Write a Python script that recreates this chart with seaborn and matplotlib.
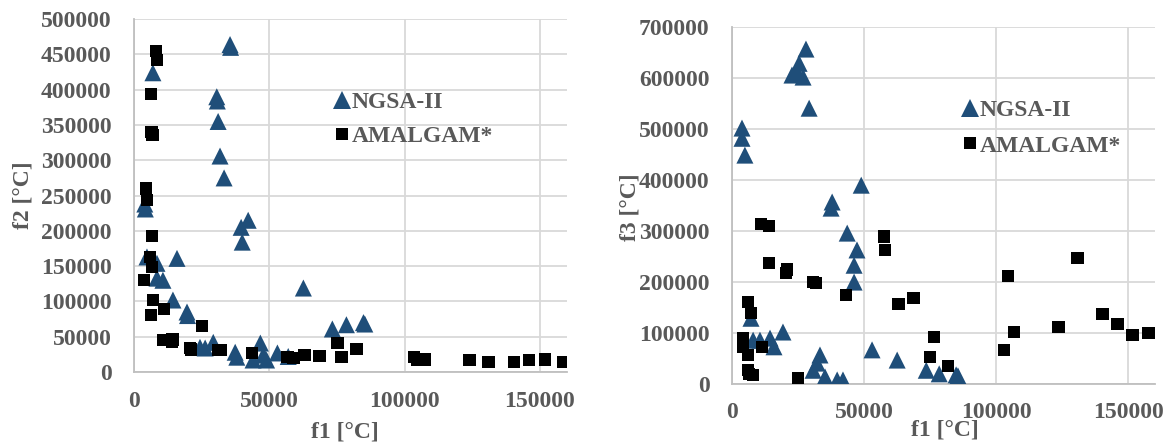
import matplotlib
matplotlib.use("Agg")
import matplotlib.pyplot as plt
import seaborn as sns
import pandas as pd

# left panel: f1 vs f2
ngsa_f1_a = [35500, 35700, 7000, 30600, 30800, 31100, 31800, 33300, 42200, 39600, 40000,
             4000, 4200, 4800, 8500, 8500, 10700, 15900, 14400, 19600, 19800, 24400, 26300,
             29300, 37400, 38000, 46700, 47800, 44000, 49000, 53000, 57000, 62600, 73300,
             78500, 84800, 85300]
ngsa_f2 = [464000, 460000, 424000, 390000, 384000, 355000, 306000, 275000, 215000, 205000, 184000,
           238000, 231000, 163000, 154000, 133000, 130000, 161000, 102000, 85000, 80000, 35000, 34000,
           42000, 28000, 21000, 41000, 24000, 17000, 17000, 27000, 22000, 119000, 61000,
           67000, 70000, 68000]
amal_f1_a = [8100, 8500, 6300, 6500, 6900, 4400, 4800, 6700, 5900, 6700, 3700, 7000, 6300,
             11100, 10700, 14100, 14300, 20700, 21000, 25200, 31100, 32000, 43700, 56800, 58900,
             63000, 68500, 75200, 76700, 82200, 103400, 104500, 107400, 124000, 131000, 140400,
             145900, 151800, 158500]
amal_f2 = [455000, 442000, 394000, 340000, 336000, 260000, 244000, 193000, 163000, 149000, 130000, 102000, 81000,
           89000, 45000, 43000, 46000, 34000, 32000, 65000, 31000, 31000, 27000, 21000, 20000,
           24000, 23000, 41000, 21000, 33000, 21000, 18000, 18000, 17000, 14000, 14000,
           17000, 18000, 14000]

# right panel: f1 vs f3
ngsa_f1_b = [28000, 25400, 24600, 26900, 22700, 29200, 3800, 3800, 4900, 48900, 37900, 37500,
             43600, 47300, 46200, 46200, 7200, 19300, 14400, 15900, 8000, 10600, 53000, 33300,
             32200, 30700, 35200, 39800, 42000, 62500, 73500, 78400, 84800, 85500]
ngsa_f3 = [657000, 629000, 612000, 602000, 606000, 541000, 502000, 482000, 449000, 390000, 357000, 345000,
           296000, 263000, 233000, 200000, 129000, 102000, 90000, 73000, 86000, 86000, 67000, 57000,
           41000, 27000, 14000, 8000, 8000, 47000, 27000, 20000, 18000, 16000]
amal_f1_b = [11000, 14000, 14000, 20800, 20500, 30700, 31800, 43200, 6100, 7200, 4200, 4200,
             11400, 6100, 6100, 8000, 6500, 25000, 57600, 58000, 63000, 68600, 76500, 75000,
             81800, 104500, 103000, 106800, 130700, 123500, 140200, 145800, 151500, 157600]
amal_f3 = [314000, 310000, 237000, 225000, 218000, 200000, 198000, 175000, 161000, 139000, 90000, 73000,
           73000, 57000, 27000, 18000, 20000, 12000, 289000, 263000, 157000, 169000, 92000, 53000,
           35000, 212000, 67000, 102000, 247000, 112000, 137000, 118000, 96000, 100000]

series = ["NGSA-II", "AMALGAM*"]

df_a = pd.DataFrame({
    "f1": ngsa_f1_a + amal_f1_a,
    "f2": ngsa_f2 + amal_f2,
    "alg": [series[0]] * len(ngsa_f1_a) + [series[1]] * len(amal_f1_a),
})
df_b = pd.DataFrame({
    "f1": ngsa_f1_b + amal_f1_b,
    "f3": ngsa_f3 + amal_f3,
    "alg": [series[0]] * len(ngsa_f1_b) + [series[1]] * len(amal_f1_b),
})

sns.set_style("whitegrid")
plt.rcParams["font.family"] = ["Liberation Serif", "DejaVu Serif"]
plt.rcParams["font.weight"] = "bold"

txt = "#595959"
grid = "#d9d9d9"
pal = {"NGSA-II": "#1f4e79", "AMALGAM*": "black"}
mk = {"NGSA-II": "^", "AMALGAM*": "s"}
sz = {"NGSA-II": 150, "AMALGAM*": 80}

fig = plt.figure(figsize=(11.7, 4.45), dpi=100)
ax1 = fig.add_axes([0.1145, 0.164, 0.3701, 0.793])
ax2 = fig.add_axes([0.6256, 0.137, 0.3615, 0.802])


def style(ax, ycol, ymax, ystep, xpad, xlab_xy, ylab_xy, leg_xy, lspace):
    ax.set_xlim(0, 160000)
    ax.set_ylim(0, ymax)
    ax.set_xticks([0, 50000, 100000, 150000])
    ax.set_yticks(range(0, ymax + 1, ystep))
    ax.grid(True, color=grid, linewidth=1.3)
    ax.set_axisbelow(True)
    for s in ["top", "right"]:
        ax.spines[s].set_visible(False)
    for s in ["left", "bottom"]:
        ax.spines[s].set_visible(True)
        ax.spines[s].set_color("#bfbfbf")
        ax.spines[s].set_linewidth(1.3)
    ax.tick_params(axis="both", length=0, labelsize=17, labelcolor=txt)
    ax.tick_params(axis="x", pad=xpad)
    ax.tick_params(axis="y", pad=16)
    ax.set_xlabel("f1 [°C]", fontsize=17, color=txt, fontweight="bold")
    ax.set_ylabel(ycol + " [°C]", fontsize=17, color=txt, fontweight="bold")
    ax.xaxis.set_label_coords(*xlab_xy)
    ax.yaxis.set_label_coords(*ylab_xy)
    h, l = ax.get_legend_handles_labels()
    leg = ax.legend(h, l, loc="upper left", bbox_to_anchor=leg_xy, frameon=False,
                    fontsize=17, handlelength=1.0, handletextpad=-0.08,
                    labelspacing=lspace, borderpad=0, borderaxespad=0)
    for t in leg.get_texts():
        t.set_color(txt)
        t.set_fontweight("bold")


sns.scatterplot(data=df_a, x="f1", y="f2", hue="alg", style="alg", size="alg",
                palette=pal, markers=mk, sizes=sz, linewidth=0, ax=ax1, zorder=3)
sns.scatterplot(data=df_b, x="f1", y="f3", hue="alg", style="alg", size="alg",
                palette=pal, markers=mk, sizes=sz, linewidth=0, ax=ax2, zorder=3)

style(ax1, "f2", 500000, 50000, 14, (0.487, -0.139), (-0.233, 0.5), (0.453, 0.794), 0.53)
style(ax2, "f3", 700000, 100000, 13, (0.504, -0.099), (-0.217, 0.496), (0.534, 0.796), 0.58)

fig.savefig("out.png", dpi=100)
